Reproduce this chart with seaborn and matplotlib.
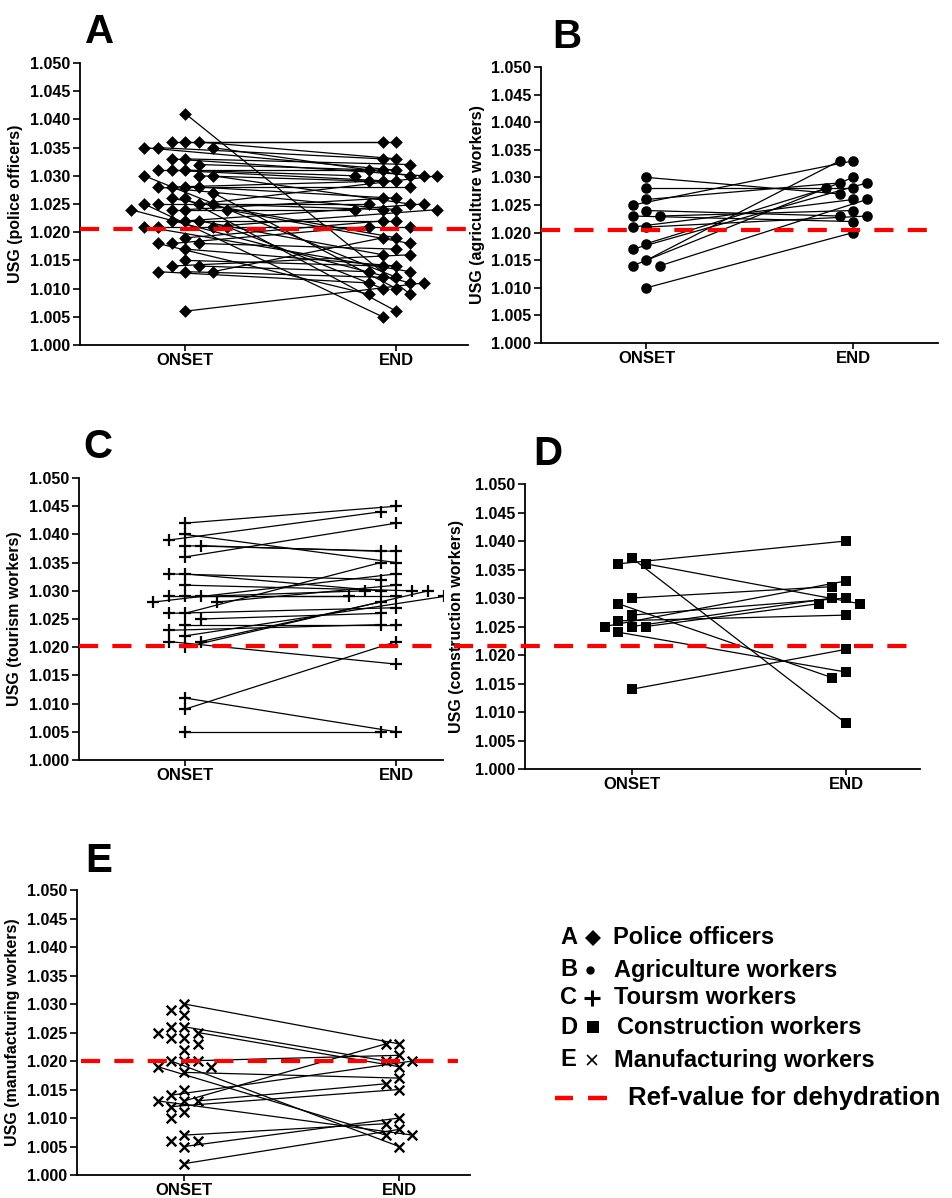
import numpy as np
import pandas as pd
import matplotlib
matplotlib.use("Agg")
import matplotlib.pyplot as plt
from matplotlib.lines import Line2D
from matplotlib.ticker import FormatStrFormatter, MultipleLocator
import seaborn as sns

# ---------------- data ----------------
time_labels = ["ONSET", "END"]

police_onset = [1.041, 1.036, 1.036, 1.036, 1.035, 1.035, 1.035, 1.033, 1.033, 1.032,
                1.031, 1.031, 1.031, 1.030, 1.030, 1.030, 1.028, 1.028, 1.028, 1.028,
                1.027, 1.026, 1.026, 1.025, 1.025, 1.025, 1.025, 1.024, 1.024, 1.024,
                1.024, 1.022, 1.022, 1.022, 1.021, 1.021, 1.021, 1.021, 1.019, 1.018,
                1.018, 1.018, 1.017, 1.015, 1.014, 1.014, 1.013, 1.013, 1.013, 1.006]
police_end = [1.009, 1.036, 1.036, 1.033, 1.033, 1.030, 1.031, 1.032, 1.030, 1.031,
              1.030, 1.029, 1.031, 1.029, 1.025, 1.012, 1.028, 1.029, 1.026, 1.024,
              1.010, 1.006, 1.019, 1.030, 1.025, 1.024, 1.005, 1.026, 1.024, 1.018,
              1.011, 1.025, 1.022, 1.016, 1.021, 1.024, 1.013, 1.010, 1.022, 1.021,
              1.017, 1.009, 1.014, 1.014, 1.016, 1.013, 1.012, 1.011, 1.019, 1.011]

agri_onset = [1.030, 1.028, 1.026, 1.025, 1.024, 1.023, 1.023, 1.021, 1.021, 1.018,
              1.017, 1.015, 1.014, 1.014, 1.010]
agri_end = [1.027, 1.028, 1.029, 1.033, 1.023, 1.022, 1.024, 1.023, 1.026, 1.028,
            1.029, 1.033, 1.030, 1.026, 1.020]

tourism_onset = [1.042, 1.040, 1.039, 1.038, 1.038, 1.036, 1.033, 1.033, 1.031, 1.029,
                 1.029, 1.029, 1.028, 1.028, 1.026, 1.026, 1.025, 1.024, 1.023, 1.022,
                 1.021, 1.021, 1.020, 1.011, 1.009, 1.005]
tourism_end = [1.045, 1.035, 1.044, 1.037, 1.037, 1.042, 1.030, 1.032, 1.030, 1.029,
               1.029, 1.030, 1.033, 1.031, 1.035, 1.027, 1.026, 1.024, 1.024, 1.029,
               1.017, 1.028, 1.030, 1.005, 1.021, 1.005]

constr_onset = [1.037, 1.036, 1.036, 1.030, 1.029, 1.027, 1.026, 1.025, 1.025, 1.025,
                1.024, 1.014]
constr_end = [1.008, 1.040, 1.029, 1.032, 1.016, 1.030, 1.027, 1.030, 1.029, 1.033,
              1.017, 1.021]

manuf_onset = [1.030, 1.029, 1.028, 1.026, 1.026, 1.025, 1.025, 1.024, 1.024, 1.023,
               1.022, 1.020, 1.020, 1.020, 1.019, 1.019, 1.018, 1.015, 1.014, 1.013,
               1.013, 1.013, 1.012, 1.011, 1.010, 1.007, 1.006, 1.006, 1.005, 1.002]
manuf_end = [1.023, np.nan, np.nan, 1.020, np.nan, 1.019, np.nan, np.nan, np.nan, np.nan,
             np.nan, 1.021, 1.005, np.nan, 1.007, np.nan, 1.017, np.nan, 1.020, 1.023,
             1.016, 1.007, 1.015, np.nan, np.nan, 1.009, np.nan, np.nan, 1.010, 1.008]

ref_values = [1.0205, 1.0205, 1.0202, 1.0215, 1.0200]

panel_letters = ["A", "B", "C", "D", "E"]
panel_ylabels = ["USG (police officers)", "USG (agriculture workers)",
                 "USG (tourism workers)", "USG (construction workers)",
                 "USG (manufacturing workers)"]
legend_labels = ["Police officers", "Agriculture workers", "Toursm workers",
                 "Construction workers", "Manufacturing workers"]
ref_label = "Ref-value for dehydration"

# ---------------- style ----------------
sns.set_theme(style="ticks")
plt.rcParams["font.family"] = ["Liberation Sans", "DejaVu Sans"]
plt.rcParams["font.weight"] = "bold"
plt.rcParams["axes.labelweight"] = "bold"
for key in ["text.color", "axes.labelcolor", "xtick.color", "ytick.color",
            "axes.edgecolor"]:
    plt.rcParams[key] = "black"

W, H = 953, 1198
fig = plt.figure(figsize=(W / 100, H / 100), dpi=100)


def spread(values, step, thr=0.0011):
    vals = np.asarray(values, float)
    order = np.argsort(-np.nan_to_num(vals, nan=-9), kind="stable")
    slots = np.zeros(len(vals))
    placed = []
    cand = [0, -1, 1, -2, 2, -3, 3, -4, 4, -5, 5, -6, 6]
    for i in order:
        v = vals[i]
        if np.isnan(v):
            continue
        for k in cand:
            if all(not (s == k and abs(pv - v) < thr) for s, pv in placed):
                break
        placed.append((k, v))
        slots[i] = k
    return slots * step


def make_df(onset, end, step):
    n = len(onset)
    ids = np.arange(n)
    d0 = pd.DataFrame({"id": ids, "t": 0, "usg": onset})
    d1 = pd.DataFrame({"id": ids, "t": 1, "usg": end})
    d0["x"] = d0["t"] + spread(onset, step)
    d1["x"] = d1["t"] + spread(end, step)
    return pd.concat([d0, d1], ignore_index=True)


def rect(l, t, r, b):
    return [l / W, 1 - b / H, (r - l) / W, (b - t) / H]


panels = [
    dict(onset=police_onset, end=police_end, rect=rect(80, 63, 468, 345), xlim=(-0.5, 1.34),
         marker="D", s=42, lw=0, step=0.065, ref_ext=(0, 1), lp=5),
    dict(onset=agri_onset, end=agri_end, rect=rect(541, 67, 938, 343), xlim=(-0.51, 1.41),
         marker="o", s=58, lw=0, step=0.066, ref_ext=(0, 1), lp=4),
    dict(onset=tourism_onset, end=tourism_end, rect=rect(79, 478, 443, 760), xlim=(-0.5, 1.22),
         marker="+", s=75, lw=1.6, step=0.075, ref_ext=(0, 1), lp=5),
    dict(onset=constr_onset, end=constr_end, rect=rect(525, 484, 920, 769), xlim=(-0.5, 1.345),
         marker="s", s=52, lw=0, step=0.064, ref_ext=(-0.18, 1.0), lp=8),
    dict(onset=manuf_onset, end=manuf_end, rect=rect(77, 890, 470, 1175), xlim=(-0.5, 1.33),
         marker="x", s=48, lw=1.7, step=0.062, ref_ext=(0.01, 0.97), lp=5),
]

letter_pos = [(85, 43), (552, 48), (83, 458), (533, 465), (85, 872)]

for i, p in enumerate(panels):
    ax = fig.add_axes(p["rect"])
    df = make_df(p["onset"], p["end"], p["step"])
    sns.lineplot(data=df, x="x", y="usg", units="id", estimator=None, sort=False,
                 color="black", linewidth=0.9, ax=ax, zorder=2, legend=False)
    sns.scatterplot(data=df, x="x", y="usg", marker=p["marker"], s=p["s"],
                    color="black", edgecolor="black", linewidth=p["lw"], ax=ax,
                    zorder=3, legend=False)
    ax.axhline(ref_values[i], xmin=p["ref_ext"][0], xmax=p["ref_ext"][1],
               color="#ff0000", linewidth=3.0, dashes=(4.6, 3.4), zorder=4,
               clip_on=False)
    ax.set_xlim(*p["xlim"])
    ax.set_ylim(1.000, 1.050)
    ax.yaxis.set_major_locator(MultipleLocator(0.005))
    ax.yaxis.set_major_formatter(FormatStrFormatter("%.3f"))
    ax.set_xticks([0, 1])
    ax.set_xticklabels(time_labels)
    ax.set_xlabel("")
    ax.set_ylabel(panel_ylabels[i], fontsize=11.5, fontweight="bold", labelpad=p["lp"])
    for sp in ["top", "right"]:
        ax.spines[sp].set_visible(False)
    for sp in ["left", "bottom"]:
        ax.spines[sp].set_linewidth(1.3)
        ax.spines[sp].set_color("black")
    ax.tick_params(axis="both", direction="out", length=5, width=1.2, color="black",
                   pad=2)
    ax.tick_params(axis="y", labelsize=11.5)
    ax.tick_params(axis="x", labelsize=12, pad=1.5, length=4)
    for lab in ax.get_xticklabels() + ax.get_yticklabels():
        lab.set_fontweight("bold")
    lx, ly = letter_pos[i]
    fig.text(lx / W, 1 - ly / H, panel_letters[i], fontsize=29, fontweight="bold",
             ha="left", va="baseline")

# ---------------- legend ----------------
row_y = [938, 970, 998, 1027, 1060]
sym_x = [593, 590, 592, 593, 592]
lab_x = [613, 614, 614, 617, 614]
sym_style = [dict(marker="D", markersize=8.5, mew=0),
             dict(marker="o", markersize=6, mew=0),
             dict(marker="+", markersize=11, mew=2.2),
             dict(marker="s", markersize=9, mew=0),
             dict(marker="x", markersize=7, mew=1.2)]
for k in range(5):
    yf = 1 - row_y[k] / H
    fig.text(560 / W, yf, panel_letters[k], fontsize=17, fontweight="bold",
             ha="left", va="center")
    fig.add_artist(Line2D([sym_x[k] / W], [yf], transform=fig.transFigure,
                          color="black", linestyle="none", **sym_style[k]))
    fig.text(lab_x[k] / W, yf, legend_labels[k], fontsize=17, fontweight="bold",
             ha="left", va="center")

yr = 1 - 1098 / H
for x0, x1 in [(555, 573), (588, 607)]:
    fig.add_artist(Line2D([x0 / W, x1 / W], [yr, yr], transform=fig.transFigure,
                          color="#ff0000", linewidth=3.2, solid_capstyle="butt"))
fig.text(628 / W, yr, ref_label, fontsize=18.5, fontweight="bold", ha="left", va="center")

fig.savefig("out.png", dpi=100, facecolor="white")
